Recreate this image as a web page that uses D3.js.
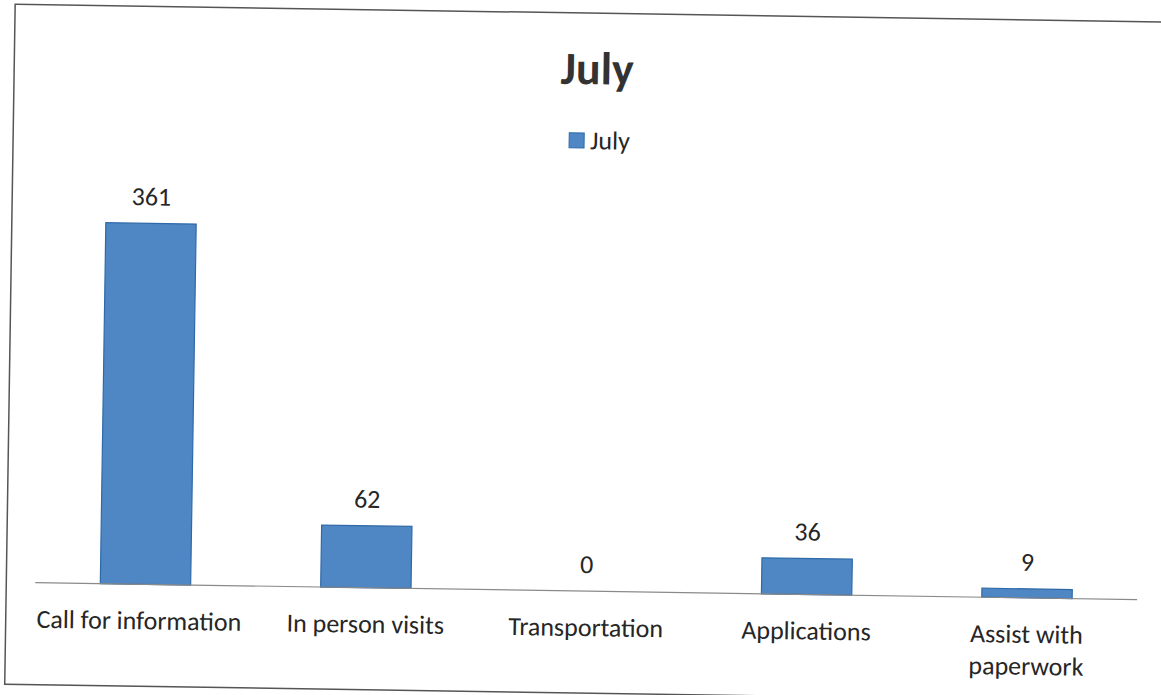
<!DOCTYPE html>
<html>
<head>
<meta charset="utf-8">
<script src="https://cdn.jsdelivr.net/npm/d3@7"></script>
<style>
  body { margin: 0; background: #fff; }
  text { font-family: Carlito, Calibri, Lato, sans-serif; fill: #262626; }
</style>
</head>
<body>
<div id="chart"></div>
<script>
var categories = ["Call for information", "In person visits", "Transportation", "Applications", "Assist with paperwork"];
var values = [361, 62, 0, 36, 9];
var seriesName = "July";

var width = 1161, height = 695;
var baseY = 591;

var svg = d3.select("#chart")
    .append("svg")
    .attr("width", width)
    .attr("height", height);

// the scanned page sits a little crooked
var g = svg.append("g")
    .attr("transform", "rotate(0.88, 580, 345)");

g.append("rect")
    .attr("x", 10)
    .attr("y", 13)
    .attr("width", 1170)
    .attr("height", 680)
    .attr("fill", "none")
    .attr("stroke", "#555")
    .attr("stroke-width", 1.5);

var x = d3.scaleBand()
    .domain(categories)
    .range([39, 1141])
    .paddingInner(0.59)
    .paddingOuter(0.295);

var y = d3.scaleLinear()
    .domain([0, 400])
    .range([baseY, baseY - 400]);

g.append("text")
    .attr("x", 593)
    .attr("y", 84)
    .attr("text-anchor", "middle")
    .attr("font-size", 46)
    .attr("font-weight", "bold")
    .style("fill", "#333")
    .text(seriesName);

// legend
g.append("rect")
    .attr("x", 566)
    .attr("y", 133)
    .attr("width", 15)
    .attr("height", 15)
    .attr("fill", "#4f86c4")
    .attr("stroke", "#2f6aa8");

g.append("text")
    .attr("x", 587)
    .attr("y", 149)
    .attr("font-size", 26)
    .text(seriesName);

g.selectAll(".bar")
    .data(values)
    .enter()
    .append("rect")
    .attr("class", "bar")
    .attr("x", function(d, i) { return x(categories[i]); })
    .attr("y", function(d) { return y(d); })
    .attr("width", x.bandwidth())
    .attr("height", function(d) { return baseY - y(d); })
    .attr("fill", "#4f86c4")
    .attr("stroke", "#2f6aa8")
    .attr("stroke-width", 1.2);

g.append("line")
    .attr("x1", 39)
    .attr("x2", 1141)
    .attr("y1", baseY)
    .attr("y2", baseY)
    .attr("stroke", "#8a8a8a")
    .attr("stroke-width", 1.2);

g.selectAll(".value")
    .data(values)
    .enter()
    .append("text")
    .attr("class", "value")
    .attr("x", function(d, i) { return x(categories[i]) + x.bandwidth() / 2; })
    .attr("y", function(d) { return y(d) - 18; })
    .attr("text-anchor", "middle")
    .attr("font-size", 26)
    .text(function(d) { return d; });

var labels = g.selectAll(".cat")
    .data(categories)
    .enter()
    .append("text")
    .attr("class", "cat")
    .attr("x", function(d) { return x(d) + x.bandwidth() / 2; })
    .attr("y", 636)
    .attr("text-anchor", "middle")
    .attr("font-size", 26);

labels.each(function(d) {
    var lines = d == "Assist with paperwork" ? ["Assist with", "paperwork"] : [d];
    var t = d3.select(this);
    lines.forEach(function(l, i) {
        t.append("tspan")
            .attr("x", x(d) + x.bandwidth() / 2 - (d == "Call for information" ? 6 : 0))
            .attr("dy", i == 0 ? 0 : 32)
            .text(l);
    });
});
</script>
</body>
</html>
